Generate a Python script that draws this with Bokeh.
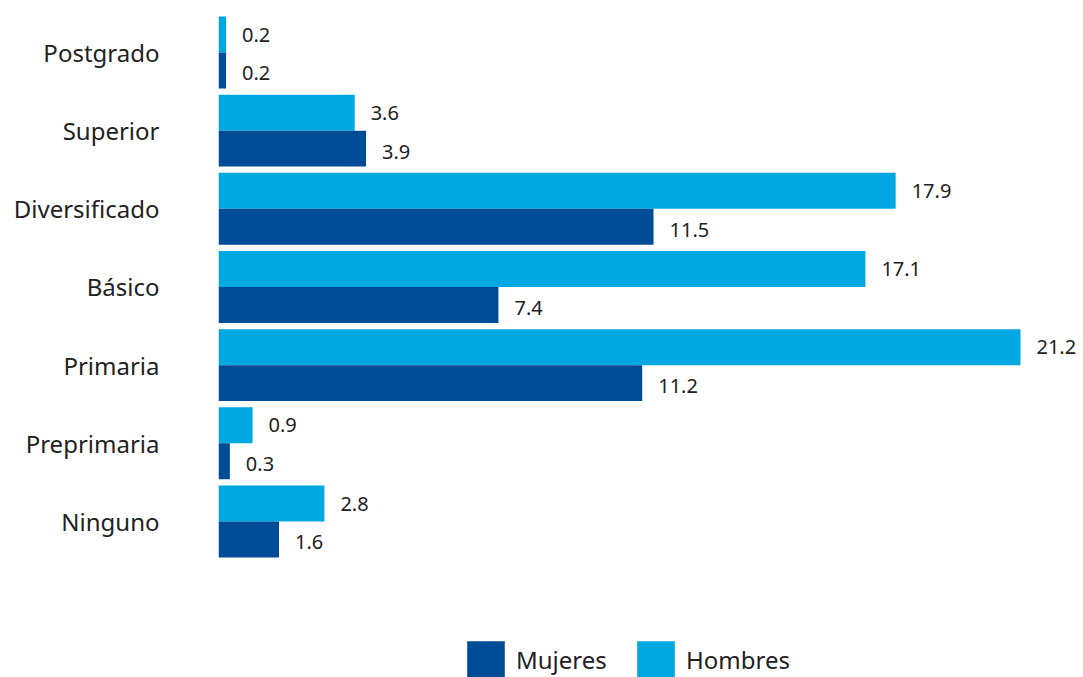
from bokeh.plotting import figure
from bokeh.models import (ColumnDataSource, Range1d, LinearAxis, FixedTicker,
                          Legend, LegendItem)
from bokeh.core.properties import value
from bokeh.embed import file_html
from bokeh.resources import INLINE

# Data (bottom to top)
categories = ["Ninguno", "Preprimaria", "Primaria", "Básico", "Diversificado", "Superior", "Postgrado"]
hombres = [2.8, 0.9, 21.2, 17.1, 17.9, 3.6, 0.2]
mujeres = [1.6, 0.3, 11.2, 7.4, 11.5, 3.9, 0.2]
series_names = ["Mujeres", "Hombres"]

C_H = "#00A8E2"
C_M = "#004C97"
FONT = "Noto Sans"

bar_h = 0.46
off = 0.23
idx = list(range(len(categories)))

src_h = ColumnDataSource(dict(y=[i + off for i in idx], v=hombres,
                              lbl=[f"{v:.1f}" for v in hombres]))
src_m = ColumnDataSource(dict(y=[i - off for i in idx], v=mujeres,
                              lbl=[f"{v:.1f}" for v in mujeres]))

p = figure(width=1083, height=677, output_backend="svg", toolbar_location=None,
           x_axis_location=None, y_axis_location=None,
           x_range=Range1d(0, 22.866), y_range=Range1d(-1.996, 6.665),
           min_border_left=218, min_border_right=0, min_border_top=0, min_border_bottom=0)
p.outline_line_color = None
p.xgrid.visible = False
p.ygrid.visible = False
p.background_fill_color = "white"
p.border_fill_color = "white"

r_h = p.hbar(y="y", right="v", left=0, height=bar_h, source=src_h, fill_color=C_H, line_color=None)
r_m = p.hbar(y="y", right="v", left=0, height=bar_h, source=src_m, fill_color=C_M, line_color=None)

p.text(x="v", y="y", text="lbl", source=src_h, x_offset=16, y_offset=0,
       text_baseline="middle", text_align="left", text_font=value(FONT),
       text_font_size="20px", text_color="#222222")
p.text(x="v", y="y", text="lbl", source=src_m, x_offset=16, y_offset=3,
       text_baseline="middle", text_align="left", text_font=value(FONT),
       text_font_size="20px", text_color="#222222")

yaxis = LinearAxis(ticker=FixedTicker(ticks=idx),
                   major_label_overrides={i: c for i, c in enumerate(categories)})
yaxis.axis_line_color = None
yaxis.major_tick_line_color = None
yaxis.minor_tick_line_color = None
yaxis.major_tick_out = 0
yaxis.major_tick_in = 0
yaxis.major_label_standoff = 59
yaxis.major_label_text_font = FONT
yaxis.major_label_text_font_size = "24px"
yaxis.major_label_text_color = "#222222"
p.add_layout(yaxis, "left")

def make_legend(label, renderer, x):
    lg = Legend(items=[LegendItem(label=label, renderers=[renderer])],
                orientation="horizontal", location=(x, -6),
                glyph_width=47, glyph_height=47, label_standoff=7,
                padding=0, margin=0, border_line_color=None,
                background_fill_alpha=0,
                label_text_font=FONT, label_text_font_size="24px",
                label_text_color="#222222", label_text_baseline="middle")
    p.add_layout(lg, "center")

make_legend(series_names[0], r_m, 462 - 218)
make_legend(series_names[1], r_h, 632 - 218)

open("out.html", "w").write(file_html(p, INLINE))
